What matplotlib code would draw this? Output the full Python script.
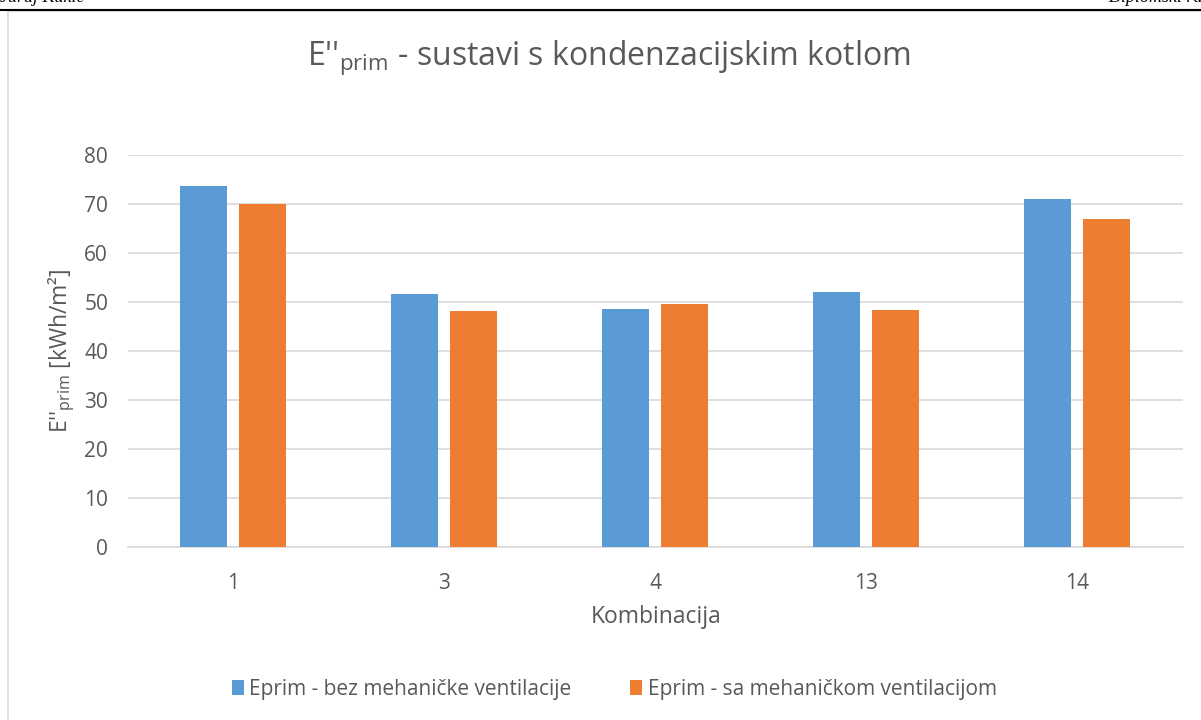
import matplotlib
matplotlib.use("Agg")
import matplotlib.pyplot as plt
import numpy as np
from matplotlib.patches import Rectangle
from matplotlib.lines import Line2D

categories = ["1", "3", "4", "13", "14"]
bez_vent = [73.7, 51.6, 48.6, 52.1, 71.0]
sa_vent = [69.9, 48.1, 49.6, 48.4, 66.9]
series_names = ["Eprim - bez mehaničke ventilacije", "Eprim - sa mehaničkom ventilacijom"]
yticks = [0, 10, 20, 30, 40, 50, 60, 70, 80]

W, H = 1201, 720
fig = plt.figure(figsize=(W / 100, H / 100), dpi=100)
plt.rcParams['font.family'] = ['Open Sans', 'DejaVu Sans']
plt.rcParams['mathtext.fontset'] = 'custom'
plt.rcParams['mathtext.rm'] = 'Open Sans'

def fx(px):
    return px / W

def fy(py):
    return 1 - py / H

# page header (partly cut off at the top, as in the reference)
fig.add_artist(Line2D([0, 1], [fy(9.5), fy(9.5)], color='black', lw=1.5, transform=fig.transFigure))
fig.text(fx(0), fy(2), "Juraj Kukić", family='Liberation Serif', style='italic', fontsize=13, va='baseline', ha='left')
fig.text(fx(1212), fy(2), "Diplomski rad", family='Liberation Serif', style='italic', fontsize=13, va='baseline', ha='right')

# chart border
fig.add_artist(Rectangle((fx(7.5), fy(740)), fx(1230), fy(11) - fy(740), fill=False,
                         edgecolor='#d9d9d9', lw=1.2, transform=fig.transFigure))

ax = fig.add_axes([fx(127.5), fy(547), fx(1182.5 - 127.5), fy(155) - fy(547)])
x = np.arange(len(categories))
bw = 0.223
off = 0.142
blue = '#5b9bd5'
orange = '#ed7d31'
ax.bar(x - off, bez_vent, bw, color=blue, label=series_names[0], zorder=3)
ax.bar(x + off, sa_vent, bw, color=orange, label=series_names[1], zorder=3)

ax.set_xlim(-0.5, len(categories) - 0.5)
ax.set_ylim(0, 80)
ax.set_yticks(yticks)
ax.set_xticks(x)
ax.set_xticklabels(categories)
ax.yaxis.grid(True, color='#d9d9d9', lw=1.2, zorder=0)
for s in ['top', 'right', 'left']:
    ax.spines[s].set_visible(False)
ax.spines['bottom'].set_color('#d9d9d9')
ax.spines['bottom'].set_linewidth(1.2)
ax.tick_params(axis='both', length=0, labelsize=15, colors='#595959')
ax.tick_params(axis='x', pad=19)
ax.tick_params(axis='y', pad=14)

fig.text(fx(656), fy(617), "Kombinacija", fontsize=16.5, color='#595959', ha='center', va='center')
fig.text(fx(62), fy(351), r"E''$_{\mathregular{prim}}$ [kWh/m²]", rotation=90, fontsize=16.5,
         color='#595959', ha='center', va='center')

fig.text(fx(609), fy(58), r"E''$_{\mathregular{prim}}$ - sustavi s kondenzacijskim kotlom", fontsize=23,
         color='#595959', ha='center', va='center')

leg = fig.legend(loc='center', bbox_to_anchor=(fx(614), fy(689)), ncol=2, frameon=False,
                 fontsize=15, handlelength=0.6, handleheight=0.7, handletextpad=0.25, columnspacing=2.8)
for t in leg.get_texts():
    t.set_color('#595959')

fig.savefig("out.png", dpi=100)
